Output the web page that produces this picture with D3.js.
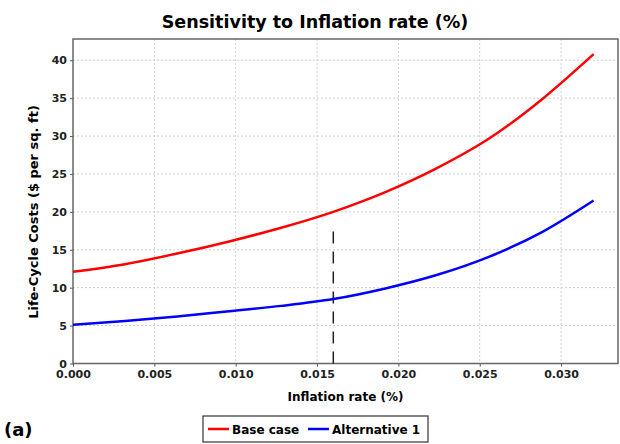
<!doctype html>
<html>

<head>
    <meta charset="utf-8">
    <title>Sensitivity to Inflation rate</title>
    <script type="text/javascript" src="https://cdn.jsdelivr.net/npm/d3@7"></script>
    <style type="text/css">
        html,
        body {
            margin: 0;
            padding: 0;
            background: #fff;
        }

        #chart svg {
            display: block;
            font-family: "DejaVu Sans", sans-serif;
        }
    </style>
</head>

<body>
    <div id="chart"></div>

    <script type="text/javascript">
        // inflation rates sampled along the x axis
        var rates = [0, 0.0032, 0.0064, 0.0096, 0.0128, 0.016, 0.0192, 0.0224, 0.0256, 0.0288, 0.032]
        var baseCase = [12.1, 13.1, 14.5, 16.1, 17.9, 20.0, 22.6, 25.8, 29.7, 34.8, 40.8]
        var alternative1 = [5.1, 5.6, 6.2, 6.9, 7.6, 8.5, 9.9, 11.7, 14.1, 17.3, 21.5]
        var xTicks = [0, 0.005, 0.010, 0.015, 0.020, 0.025, 0.030]
        var yTicks = [0, 5, 10, 15, 20, 25, 30, 35, 40]
        var seriesNames = ["Base case", "Alternative 1"]
        var seriesColors = ["#ff0000", "#0000ff"]
        var baseRate = [0.016, 18]   // dashed marker: rate, top value

        var width = 620, height = 444
        var margin = { top: 39, right: 2, bottom: 80.5, left: 73 }
        var plotW = width - margin.left - margin.right
        var plotH = height - margin.top - margin.bottom

        var x = d3.scaleLinear().domain([0, 0.0335]).range([0, plotW])
        var y = d3.scaleLinear().domain([0, 42.8]).range([plotH, 0])

        var svg = d3.select("#chart").append("svg")
            .attr("width", width)
            .attr("height", height)

        svg.append("text")
            .attr("x", 315)
            .attr("y", 28)
            .attr("text-anchor", "middle")
            .style("font-size", "17.5px")
            .style("font-weight", "bold")
            .text("Sensitivity to Inflation rate (%)")

        var g = svg.append("g")
            .attr("transform", "translate(" + margin.left + "," + margin.top + ")")

        // grid
        g.selectAll(".vgrid").data(xTicks.slice(1)).enter().append("line")
            .attr("x1", d => x(d)).attr("x2", d => x(d))
            .attr("y1", 0).attr("y2", plotH)
            .style("stroke", "#cfcfcf").style("stroke-width", 1)
            .style("stroke-dasharray", "2,2")
        g.selectAll(".hgrid").data(yTicks.slice(1)).enter().append("line")
            .attr("x1", 0).attr("x2", plotW)
            .attr("y1", d => y(d)).attr("y2", d => y(d))
            .style("stroke", "#cfcfcf").style("stroke-width", 1)
            .style("stroke-dasharray", "2,2")

        // axes
        var xAxis = g.append("g")
            .attr("transform", "translate(0," + plotH + ")")
            .call(d3.axisBottom(x).tickValues(xTicks).tickFormat(d3.format(".3f")).tickSizeInner(3).tickSizeOuter(0).tickPadding(4))
        var yAxis = g.append("g")
            .call(d3.axisLeft(y).tickValues(yTicks).tickSizeInner(3).tickSizeOuter(0).tickPadding(3))

        ;[xAxis, yAxis].forEach(function (ax) {
            ax.select(".domain").remove()
            ax.selectAll("line").style("stroke", "#555")
            ax.selectAll("text")
                .style("font-family", "DejaVu Sans, sans-serif")
                .style("font-size", "11px")
                .style("font-weight", "bold")
                .style("fill", "#222")
        })

        // frame
        g.append("rect")
            .attr("x", 0).attr("y", 0)
            .attr("width", plotW).attr("height", plotH)
            .style("fill", "none")
            .style("stroke", "#666")
            .style("stroke-width", 1.5)

        // dashed marker at base rate
        g.append("line")
            .attr("x1", x(baseRate[0])).attr("x2", x(baseRate[0]))
            .attr("y1", y(0)).attr("y2", y(baseRate[1]))
            .style("stroke", "#222")
            .style("stroke-width", 1.5)
            .style("stroke-dasharray", "12,8")

        // series
        var line = d3.line()
            .x(d => x(d[0]))
            .y(d => y(d[1]))
            .curve(d3.curveMonotoneX)

        ;[baseCase, alternative1].forEach(function (vals, i) {
            g.append("path")
                .datum(rates.map((r, k) => [r, vals[k]]))
                .attr("d", line)
                .style("fill", "none")
                .style("stroke", seriesColors[i])
                .style("stroke-width", 2.5)
        })

        // axis titles
        svg.append("text")
            .attr("x", margin.left + plotW / 2)
            .attr("y", 401)
            .attr("text-anchor", "middle")
            .style("font-size", "12px")
            .style("font-weight", "bold")
            .text("Inflation rate (%)")

        svg.append("text")
            .attr("transform", "translate(38,212) rotate(-90)")
            .attr("text-anchor", "middle")
            .style("font-size", "13px")
            .style("font-weight", "bold")
            .text("Life-Cycle Costs ($ per sq. ft)")

        // legend
        var legend = svg.append("g").attr("transform", "translate(203,416)")
        legend.append("rect")
            .attr("width", 225).attr("height", 26)
            .style("fill", "#fff")
            .style("stroke", "#333")
            .style("stroke-width", 1.2)
        var itemX = [5, 105]
        seriesNames.forEach(function (name, i) {
            var it = legend.append("g").attr("transform", "translate(" + itemX[i] + ",13)")
            it.append("line")
                .attr("x1", 0).attr("x2", 21)
                .style("stroke", seriesColors[i])
                .style("stroke-width", 2.5)
            it.append("text")
                .attr("x", 24).attr("y", 4.5)
                .style("font-size", "12px")
                .style("font-weight", "bold")
                .text(name)
        })

        svg.append("text")
            .attr("x", 4).attr("y", 436)
            .style("font-size", "18px")
            .style("font-weight", "bold")
            .text("(a)")
    </script>
</body>

</html>
